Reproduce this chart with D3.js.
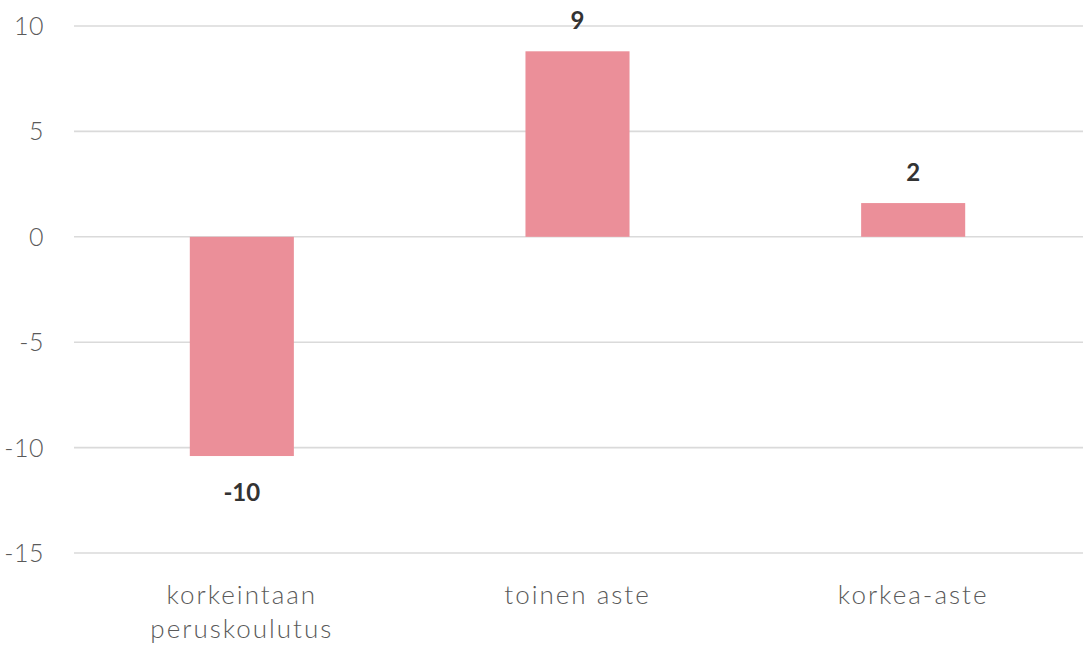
<!DOCTYPE html>
<html>
<head>
<meta charset="utf-8">
<script src="https://cdn.jsdelivr.net/npm/d3@7"></script>
<style>
  body { margin: 0; background: #fff; }
  svg { display: block; font-family: "Lato", "Open Sans", sans-serif; }
</style>
</head>
<body>
<script>
const categories = [['korkeintaan', 'peruskoulutus'], ['toinen aste'], ['korkea-aste']];
const values = [-10.4, 8.8, 1.6];
const labels = ['-10', '9', '2'];
const yTicks = [10, 5, 0, -5, -10, -15];

const width = 1083, height = 647;
const margin = {top: 26, right: 0, bottom: 95, left: 74};

const svg = d3.select("body").append("svg")
    .attr("width", width)
    .attr("height", height);

const keys = categories.map(c => c.join(' '));

const x = d3.scaleBand()
    .domain(keys)
    .range([margin.left, 1081])
    .paddingInner(0.69)
    .paddingOuter(0.345);

const y = d3.scaleLinear()
    .domain([-15, 10])
    .range([height - margin.bottom + 1, margin.top]);

// gridlines
svg.append("g")
    .selectAll("line")
    .data(yTicks)
    .enter().append("line")
    .attr("x1", margin.left)
    .attr("x2", width)
    .attr("y1", d => y(d))
    .attr("y2", d => y(d))
    .attr("stroke", "#dadada")
    .attr("stroke-width", 1.6);

// y tick labels
svg.append("g")
    .selectAll("text")
    .data(yTicks)
    .enter().append("text")
    .attr("x", 44)
    .attr("y", d => y(d) + 9)
    .attr("text-anchor", "end")
    .style("font-size", "25px")
    .style("font-weight", 300)
    .style("letter-spacing", "0.5px")
    .attr("fill", "#5a5a5a")
    .text(d => d);

// bars
svg.append("g")
    .selectAll("rect")
    .data(values)
    .enter().append("rect")
    .attr("x", (d, i) => x(keys[i]))
    .attr("y", d => y(Math.max(0, d)))
    .attr("width", x.bandwidth())
    .attr("height", d => Math.abs(y(d) - y(0)))
    .attr("fill", "#eb8f99");

// value labels
svg.append("g")
    .selectAll("text")
    .data(values)
    .enter().append("text")
    .attr("x", (d, i) => x(keys[i]) + x.bandwidth() / 2)
    .attr("y", d => d >= 0 ? y(d) - 22 : y(d) + 45)
    .attr("text-anchor", "middle")
    .style("font-size", "24px")
    .style("font-weight", "bold")
    .attr("fill", "#333")
    .text((d, i) => labels[i]);

// category labels
const cat = svg.append("g")
    .selectAll("text")
    .data(categories)
    .enter().append("text")
    .attr("x", (d, i) => x(keys[i]) + x.bandwidth() / 2)
    .attr("y", 604)
    .attr("text-anchor", "middle")
    .style("font-size", "26px")
    .style("font-weight", 300)
    .style("letter-spacing", "2px")
    .attr("fill", "#5a5a5a");

cat.selectAll("tspan")
    .data(d => d)
    .enter().append("tspan")
    .attr("x", function() { return d3.select(this.parentNode).attr("x"); })
    .attr("dy", (d, i) => i === 0 ? 0 : 34)
    .text(d => d);
</script>
</body>
</html>
